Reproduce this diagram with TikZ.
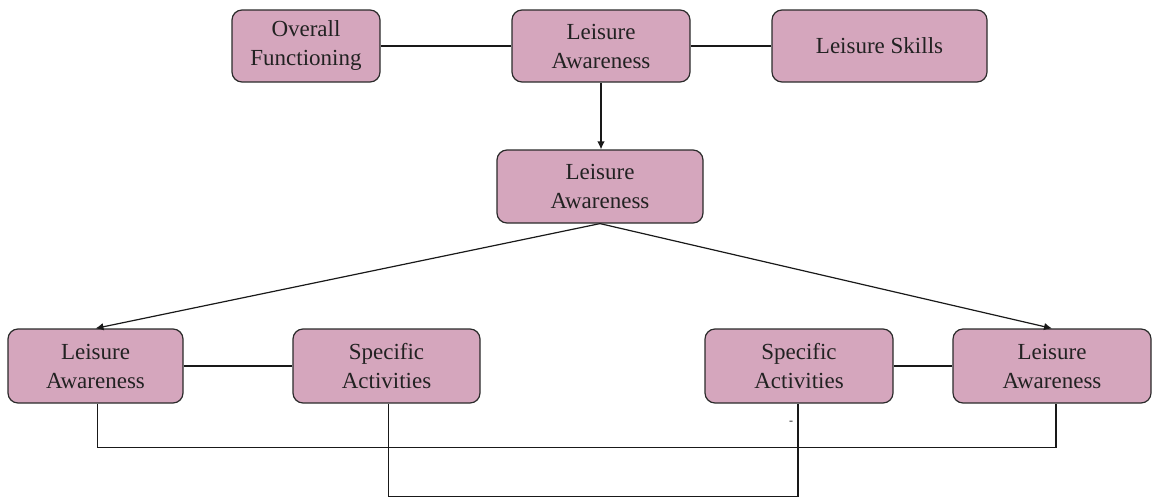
\documentclass[tikz,border=0pt]{standalone}
\usepackage{fontspec}
\setmainfont{Liberation Serif}
\usetikzlibrary{arrows.meta}
\definecolor{boxfill}{HTML}{D5A6BD}
\definecolor{boxline}{HTML}{2B2B2B}
\definecolor{txt}{HTML}{222222}
\begin{document}
\begin{tikzpicture}[x=1pt,y=-1pt,
  box/.style={draw=boxline,fill=boxfill,line width=1.2pt,rounded corners=10pt,
    inner sep=0pt,align=center,text=txt,
    font=\fontsize{23}{29}\selectfont},
  link/.style={draw=black!90,line width=1.2pt},
  arr/.style={link,-{Latex[length=8pt,width=7.5pt]}}]
\useasboundingbox (0,0) rectangle (1158,498);
% node centres and sizes set from box corners
\newcommand{\mkbox}[6]{%
  \node[box,minimum width=#4-#2,minimum height=#5-#3] (#1) at ({(#2+#4)/2},{(#3+#5)/2}) {#6};}
\mkbox{of}{232}{10}{380}{82}{Overall\\Functioning}
\mkbox{la}{512}{10}{690}{82}{Leisure\\Awareness}
\mkbox{ls}{772}{10}{987}{82}{Leisure Skills}
\mkbox{mid}{497}{150}{703}{223}{Leisure\\Awareness}
\mkbox{bl}{8}{329}{183}{403}{Leisure\\Awareness}
\mkbox{sl}{293}{329}{480}{403}{Specific\\Activities}
\mkbox{sr}{705}{329}{893}{403}{Specific\\Activities}
\mkbox{br}{953}{329}{1151}{403}{Leisure\\Awareness}
% top row
\draw[link] (of.east) -- (la.west);
\draw[link] (la.east) -- (ls.west);
\draw[arr] (la.south) -- (la.south |- mid.north);
% fan-out to the lower row
\draw[arr] (mid.south) -- (bl.north);
\draw[arr] (mid.south) -- (br.north);
% lower row links
\draw[link] (bl.east) -- (sl.west);
\draw[link] (sr.east) -- (br.west);
\coordinate (jl) at ([xshift=2pt]bl.south);
\coordinate (jr) at ([xshift=4pt]br.south);
\draw[link] (jl) -- ++(0,44) -| (jr);
\coordinate (kl) at ([xshift=2pt]sl.south);
\coordinate (kr) at ([xshift=-1pt]sr.south);
\draw[link] (kl) -- ++(0,93) -| (kr);
\node[inner sep=0pt,text=txt,font=\fontsize{12}{12}\selectfont] (dash) at (791,423) {-};
\end{tikzpicture}
\end{document}
